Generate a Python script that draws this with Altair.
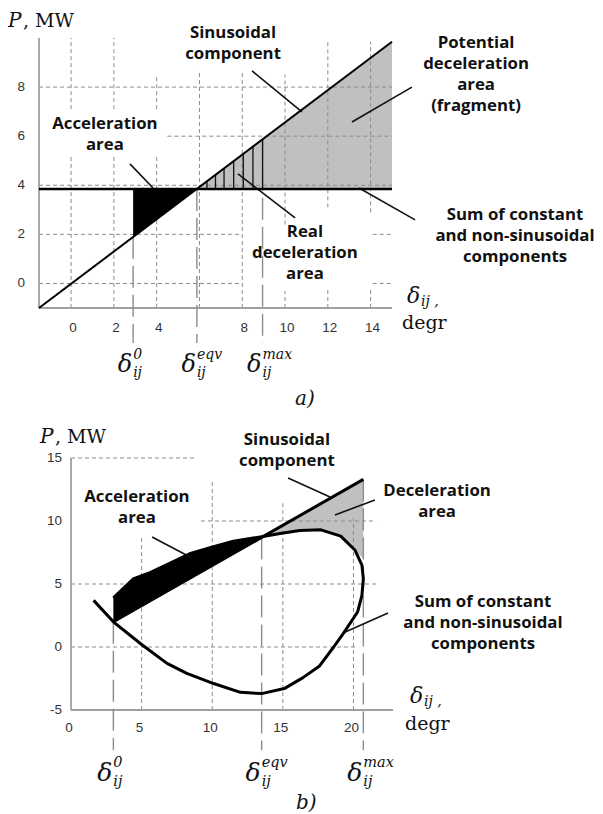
import altair as alt
import pandas as pd

# ---------------- Panel a) data ----------------
a_sin_x = [-1.5, 15.0]
a_sin_y = [-1.0, 9.85]
a_const_x = [-1.5, 15.0]
a_const_y = [3.85, 3.85]
a_delta_names = ["0", "eqv", "max"]
a_delta_vals = [2.9, 5.88, 8.95]
a_delta_top = [1.9, 3.85, 5.85]
a_acc_x = [2.9, 5.88]
a_acc_top = [3.85, 3.85]
a_acc_bot = [1.9, 3.85]
a_dec_x = [5.88, 15.0]
a_dec_top = [3.85, 9.85]
a_dec_bot = [3.85, 3.85]
a_hatch_x = [6.35, 6.75, 7.15, 7.6, 8.05, 8.5, 8.95]
a_hatch_top = [4.15, 4.45, 4.7, 5.0, 5.3, 5.6, 5.85]
a_xticks = [0, 2, 4, 8, 10, 12, 14]
a_yticks = [0, 2, 4, 6, 8]
a_hgrid_y = [8, 6, 4, 2, 2, 0, 0]
a_hgrid_x1 = [-1.5, 4.5, -1.5, -1.5, 14.1, -1.5, 14.1]
a_hgrid_x2 = [15, 15, 15, 8.0, 15, 8.0, 15]
a_vgrid_x = [0, 0, 2, 2, 4, 4, 6, 8, 10, 10, 12, 12, 14, 14]
a_vgrid_y1 = [-1, 7.1, -1, 7.1, -1, 7.1, -1, -1, -1, 2.4, -1, 3.1, -1, 2.9]
a_vgrid_y2 = [5.2, 10, 5.2, 10, 5.2, 8.4, 8.7, 8.7, -0.3, 8.5, -0.2, 9.85, -0.15, 9.85]
a_notes = ["Sinusoidal\ncomponent",
           "Potential\ndeceleration\narea\n(fragment)",
           "Acceleration\narea",
           "Real\ndeceleration\narea",
           "Sum of constant\nand non-sinusoidal\ncomponents"]
a_notes_x = [7.57, 18.93, 1.58, 10.93, 20.75]
a_notes_y = [10.0, 9.59, 6.29, 1.89, 2.59]
a_lead_x1 = [8.46, 15.93, 2.75, 7.8, 13.46]
a_lead_y1 = [8.66, 8.0, 4.87, 4.46, 3.89]
a_lead_x2 = [10.79, 13.13, 3.83, 10.47, 16.08]
a_lead_y2 = [6.99, 6.58, 3.89, 2.67, 2.59]

# ---------------- Panel b) data ----------------
b_sin_x = [3.0, 20.7]
b_sin_y = [2.0, 13.3]
b_delta_names = ["0", "eqv", "max"]
b_delta_vals = [3.0, 13.5, 20.7]
b_delta_top = [2.0, 8.7, 13.3]
b_loop_x = [1.6, 3.0, 5.0, 6.8, 8.2, 10.1, 12.0, 13.5, 15.1, 16.4, 17.6, 18.6,
            19.3, 20.3, 20.6, 20.7, 20.6, 20.1, 19.1, 17.7, 16.2, 14.8, 13.5,
            11.5, 9.9, 8.4, 5.6, 4.4, 3.0]
b_loop_y = [3.7, 2.0, 0.2, -1.3, -2.1, -2.9, -3.6, -3.7, -3.3, -2.45, -1.5, 0.0,
            1.1, 2.8, 4.1, 5.4, 6.5, 7.7, 8.8, 9.3, 9.25, 9.0, 8.75,
            8.4, 7.9, 7.4, 5.9, 5.4, 3.9]
b_acc_x = [3.0, 4.4, 5.6, 8.4, 9.9, 11.5, 13.5]
b_acc_top = [3.9, 5.4, 5.9, 7.4, 7.9, 8.4, 8.75]
b_acc_bot = [2.0, 2.89, 3.66, 5.45, 6.4, 7.42, 8.7]
b_dec_x = [13.5, 14.8, 16.2, 17.7, 19.1, 20.1, 20.7]
b_dec_top = [8.7, 9.53, 10.42, 11.38, 12.27, 12.91, 13.3]
b_dec_bot = [8.7, 9.0, 9.25, 9.3, 8.8, 7.7, 7.0]
b_xticks = [0, 5, 10, 15, 20]
b_yticks = [-5, 0, 5, 10, 15]
b_hgrid_y = [15, 10, 5, 0]
b_hgrid_x1 = [0, 9.2, 0, 0]
b_hgrid_x2 = [8.8, 21.6, 21.6, 20.1]
b_vgrid_x = [5, 10, 15, 20]
b_vgrid_y1 = [-5, -5, -5, -5]
b_vgrid_y2 = [8.7, 13.1, 11.4, 10.2]
b_notes = ["Sinusoidal\ncomponent",
           "Deceleration\narea",
           "Acceleration\narea",
           "Sum of constant\nand non-sinusoidal\ncomponents"]
b_notes_x = [15.29, 25.92, 4.67, 29.17]
b_notes_y = [16.03, 11.98, 11.51, 3.17]
b_lead_x1 = [15.37, 21.52, 5.74, 22.45]
b_lead_y1 = [13.41, 11.67, 8.73, 2.7]
b_lead_x2 = [18.34, 18.69, 8.43, 19.26]
b_lead_y2 = [11.9, 10.48, 7.14, 1.11]

# ---------------- scales ----------------
def XA():
    return alt.Scale(domain=[-1.5, 15], range=[31, 384], nice=False, zero=False)
def YA():
    return alt.Scale(domain=[-1, 10], range=[300, 30], nice=False, zero=False)
def XB():
    return alt.Scale(domain=[0, 22.8], range=[63, 385], nice=False, zero=False)
def YB():
    return alt.Scale(domain=[-5, 15], range=[702, 450], nice=False, zero=False)

def ex(f, sc):
    return alt.X(f, type="quantitative", scale=sc, axis=None)
def ey(f, sc):
    return alt.Y(f, type="quantitative", scale=sc, axis=None)

GRID = dict(color="#8c8c8c", strokeWidth=1, strokeDash=[4, 3])
AXIS = dict(color="#a0a0a0", strokeWidth=1.8)
DROP = dict(color="#8c8c8c", strokeWidth=1.4, strokeDash=[22, 7])
SANS_B = dict(font="Open Sans", fontWeight="bold", fontSize=16.8, color="#111",
              align="center", baseline="alphabetic", lineBreak="\n", lineHeight=21)
TICK = dict(font="Liberation Sans", fontSize=13.5, color="#333")
SERIF = dict(font="DejaVu Serif", fontSize=19, color="#111")
DEL = dict(font="DejaVu Serif", fontStyle="italic", color="#111")

layers = []

def panel(sx, sy, d):
    L = []
    # gray deceleration fill (under grid)
    dec = pd.DataFrame({"x": d["dec_x"], "t": d["dec_top"], "b": d["dec_bot"]})
    L.append(alt.Chart(dec).mark_area(color="#c0c0c0", opacity=1).encode(
        x=ex("x", sx()), y=ey("t", sy()), y2="b"))
    # grid
    hg = pd.DataFrame({"y": d["hg_y"], "x1": d["hg_x1"], "x2": d["hg_x2"]})
    L.append(alt.Chart(hg).mark_rule(**GRID).encode(x=ex("x1", sx()), x2="x2", y=ey("y", sy())))
    vg = pd.DataFrame({"x": d["vg_x"], "y1": d["vg_y1"], "y2": d["vg_y2"]})
    L.append(alt.Chart(vg).mark_rule(**GRID).encode(x=ex("x", sx()), y=ey("y1", sy()), y2="y2"))
    # axes
    ax = pd.DataFrame({"x1": [d["xd"][0], d["xd"][0]], "x2": [d["xd"][0], d["xd"][1]],
                       "y1": [d["yd"][0], d["yd"][0]], "y2": [d["yd"][1], d["yd"][0]]})
    L.append(alt.Chart(ax).mark_rule(**AXIS).encode(
        x=ex("x1", sx()), x2="x2", y=ey("y1", sy()), y2="y2"))
    # delta drop lines
    dl = pd.DataFrame({"x": d["dv"], "t": d["dt"], "b": [d["drop_to"]] * 3})
    L.append(alt.Chart(dl).mark_rule(**DROP).encode(x=ex("x", sx()), y=ey("t", sy()), y2="b"))
    # black acceleration fill
    acc = pd.DataFrame({"x": d["acc_x"], "t": d["acc_top"], "b": d["acc_bot"]})
    L.append(alt.Chart(acc).mark_area(color="#000", opacity=1).encode(
        x=ex("x", sx()), y=ey("t", sy()), y2="b"))
    # tick labels
    xt = pd.DataFrame({"v": d["xticks"], "y": [d["xtick_y"]] * len(d["xticks"]),
                       "t": [str(v) for v in d["xticks"]]})
    L.append(alt.Chart(xt).mark_text(align="center", baseline="middle", dx=d["xtick_dx"], **TICK).encode(
        x=ex("v", sx()), y=ey("y", sy()), text="t"))
    yt = pd.DataFrame({"v": d["yticks"], "x": [d["ytick_x"]] * len(d["yticks"]),
                       "t": [str(v) for v in d["yticks"]]})
    L.append(alt.Chart(yt).mark_text(align="right", baseline="middle", **TICK).encode(
        x=ex("x", sx()), y=ey("v", sy()), text="t"))
    # notes
    nt = pd.DataFrame({"x": d["nx"], "y": d["ny"], "t": d["notes"]})
    L.append(alt.Chart(nt).mark_text(**SANS_B).encode(x=ex("x", sx()), y=ey("y", sy()), text="t"))
    ld = pd.DataFrame({"x1": d["lx1"], "y1": d["ly1"], "x2": d["lx2"], "y2": d["ly2"]})
    L.append(alt.Chart(ld).mark_rule(color="#111", strokeWidth=1.6).encode(
        x=ex("x1", sx()), y=ey("y1", sy()), x2="x2", y2="y2"))
    # delta labels
    dd = pd.DataFrame({"x": d["dv"], "y": [d["dl_y"]] * 3, "ys": [d["dl_ys"]] * 3,
                       "yb": [d["dl_yb"]] * 3, "sup": d["dn"], "d": ["δ"] * 3, "s": ["ij"] * 3})
    L.append(alt.Chart(dd).mark_text(align="right", baseline="alphabetic", dx=-1,
                                     fontSize=d["dfs"], **DEL).encode(
        x=ex("x", sx()), y=ey("y", sy()), text="d"))
    L.append(alt.Chart(dd).mark_text(align="left", baseline="alphabetic", dx=0,
                                     fontSize=d["sfs"], **DEL).encode(
        x=ex("x", sx()), y=ey("ys", sy()), text="sup"))
    L.append(alt.Chart(dd).mark_text(align="left", baseline="alphabetic", dx=0,
                                     fontSize=d["sfs"], **DEL).encode(
        x=ex("x", sx()), y=ey("yb", sy()), text="s"))
    # axis titles
    tl = pd.DataFrame({"x": [d["P_x"]], "y": [d["P_y"]], "t": ["P"], "t2": [", MW"]})
    L.append(alt.Chart(tl).mark_text(align="left", baseline="alphabetic", fontSize=20, **DEL).encode(
        x=ex("x", sx()), y=ey("y", sy()), text="t"))
    L.append(alt.Chart(tl).mark_text(align="left", baseline="alphabetic", dx=15, **SERIF).encode(
        x=ex("x", sx()), y=ey("y", sy()), text="t2"))
    xl = pd.DataFrame({"x": [d["dx_x"]], "y": [d["dx_y"]], "t": ["δ"], "s": ["ij ,"],
                       "gx": [d["degr_x"]], "gy": [d["degr_y"]], "g": ["degr"],
                       "lx": [d["lab_x"]], "ly": [d["lab_y"]], "l": [d["lab"]]})
    L.append(alt.Chart(xl).mark_text(align="left", baseline="alphabetic", fontSize=22, **DEL).encode(
        x=ex("x", sx()), y=ey("y", sy()), text="t"))
    L.append(alt.Chart(xl).mark_text(align="left", baseline="alphabetic", fontSize=14, dx=14, dy=3, **DEL).encode(
        x=ex("x", sx()), y=ey("y", sy()), text="s"))
    L.append(alt.Chart(xl).mark_text(align="left", baseline="alphabetic", **SERIF).encode(
        x=ex("gx", sx()), y=ey("gy", sy()), text="g"))
    L.append(alt.Chart(xl).mark_text(align="left", baseline="alphabetic", fontSize=20, **DEL).encode(
        x=ex("lx", sx()), y=ey("ly", sy()), text="l"))
    return L

A = dict(dec_x=a_dec_x, dec_top=a_dec_top, dec_bot=a_dec_bot,
         hg_y=a_hgrid_y, hg_x1=a_hgrid_x1, hg_x2=a_hgrid_x2,
         vg_x=a_vgrid_x, vg_y1=a_vgrid_y1, vg_y2=a_vgrid_y2,
         xd=[-1.5, 15], yd=[-1, 10],
         dv=a_delta_vals, dt=a_delta_top, dn=a_delta_names, drop_to=-2.43,
         acc_x=a_acc_x, acc_top=a_acc_top, acc_bot=a_acc_bot,
         xticks=a_xticks, xtick_y=-1.81, xtick_dx=2, yticks=a_yticks, ytick_x=-2.15,
         notes=a_notes, nx=a_notes_x, ny=a_notes_y,
         lx1=a_lead_x1, ly1=a_lead_y1, lx2=a_lead_x2, ly2=a_lead_y2,
         dl_y=-3.61, dl_ys=-3.08, dl_yb=-3.82, dfs=24, sfs=14,
         P_x=-2.95, P_y=10.45, dx_x=15.7, dx_y=-0.8, degr_x=15.47, degr_y=-1.86,
         lab_x=10.47, lab_y=-4.95, lab="a)")
B = dict(dec_x=b_dec_x, dec_top=b_dec_top, dec_bot=b_dec_bot,
         hg_y=b_hgrid_y, hg_x1=b_hgrid_x1, hg_x2=b_hgrid_x2,
         vg_x=b_vgrid_x, vg_y1=b_vgrid_y1, vg_y2=b_vgrid_y2,
         xd=[0, 22.8], yd=[-5, 15],
         dv=b_delta_vals, dt=b_delta_top, dn=b_delta_names, drop_to=-8.2,
         acc_x=b_acc_x, acc_top=b_acc_top, acc_bot=b_acc_bot,
         xticks=b_xticks, xtick_y=-6.43, xtick_dx=-2, yticks=b_yticks, ytick_x=-0.64,
         notes=b_notes, nx=b_notes_x, ny=b_notes_y,
         lx1=b_lead_x1, ly1=b_lead_y1, lx2=b_lead_x2, ly2=b_lead_y2,
         dl_y=-10.63, dl_ys=-9.55, dl_yb=-11.0, dfs=25, sfs=14.5,
         P_x=-2.2, P_y=16.19, dx_x=24.0, dx_y=-4.44, degr_x=23.65, degr_y=-6.59,
         lab_x=15.93, lab_y=-12.85, lab="b)")

layers += panel(XA, YA, A)
# panel a lines
hatch = pd.DataFrame({"x": a_hatch_x, "t": a_hatch_top, "b": [3.85] * len(a_hatch_x)})
layers.append(alt.Chart(hatch).mark_rule(color="#111", strokeWidth=1.3).encode(
    x=ex("x", XA()), y=ey("t", YA()), y2="b"))
layers.append(alt.Chart(pd.DataFrame({"x": a_const_x, "y": a_const_y})).mark_line(
    color="#000", strokeWidth=2.6).encode(x=ex("x", XA()), y=ey("y", YA())))
layers.append(alt.Chart(pd.DataFrame({"x": a_sin_x, "y": a_sin_y})).mark_line(
    color="#000", strokeWidth=2).encode(x=ex("x", XA()), y=ey("y", YA())))

layers += panel(XB, YB, B)
loop = pd.DataFrame({"x": b_loop_x, "y": b_loop_y, "i": list(range(len(b_loop_x)))})
layers.append(alt.Chart(loop).mark_line(color="#000", strokeWidth=3, strokeJoin="round").encode(
    x=ex("x", XB()), y=ey("y", YB()), order="i:Q"))
layers.append(alt.Chart(pd.DataFrame({"x": b_sin_x, "y": b_sin_y})).mark_line(
    color="#000", strokeWidth=3).encode(x=ex("x", XB()), y=ey("y", YB())))

chart = alt.layer(*layers).resolve_scale(x="independent", y="independent").properties(
    width=587, height=805, autosize=alt.AutoSizeParams(type="none"), padding=0
).configure_view(stroke=None)

chart.save("out.html", embed_options={"renderer": "svg", "actions": False})
